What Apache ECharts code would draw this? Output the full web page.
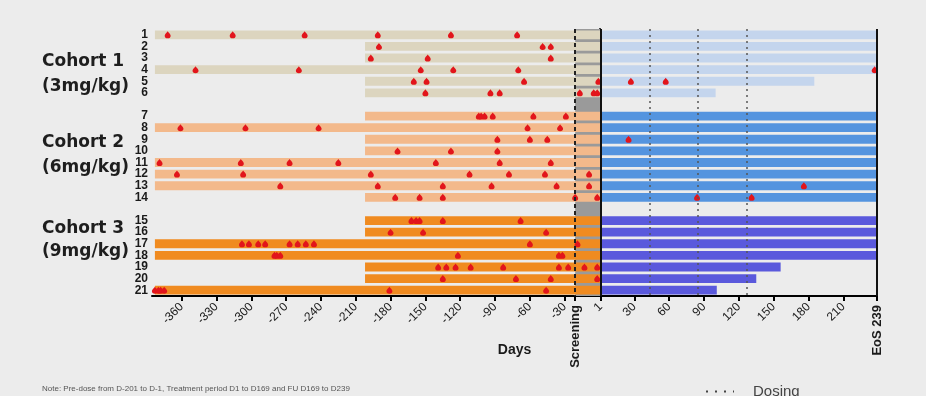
<!DOCTYPE html>
<html>
<head>
<meta charset="utf-8">
<title>Patient timelines by cohort</title>
<script src="https://cdn.jsdelivr.net/npm/echarts@6/dist/echarts.min.js"></script>
<style>
  html, body { margin: 0; padding: 0; background: #ececec; }
  #chart { width: 926px; height: 396px; }
</style>
</head>
<body>
<div id="chart"></div>
<script>
// Patients and their cohort (0: 3mg/kg, 1: 6mg/kg, 2: 9mg/kg)
const patients = ['1','2','3','4','5','6','7','8','9','10','11','12','13','14','15','16','17','18','19','20','21'];
const patientCohort = [0,0,0,0,0,0, 1,1,1,1,1,1,1,1, 2,2,2,2,2,2,2];
const cohortNames = ['Cohort 1', 'Cohort 2', 'Cohort 3'];
const cohortDoses = ['(3mg/kg)', '(6mg/kg)', '(9mg/kg)'];

// Pre-dose period: first available day per patient (ends at day 1)
const preDoseStart = [
  -383, -202, -202, -383, -202, -202,
  -202, -383, -202, -202, -383, -383, -383, -202,
  -202, -202, -383, -383, -202, -202, -383
];
// Treatment / follow-up period: last day per patient (starts at day 1)
const treatmentEnd = [
  239, 239, 239, 239, 185, 100,
  239, 239, 239, 239, 239, 239, 239, 239,
  239, 239, 239, 239, 156, 135, 101
];

// Event days per patient
const eventDays = [
  [-372, -316, -254, -191, -128, -71],
  [-190, -49, -42],
  [-197, -148, -42],
  [-348, -259, -154, -126, -70, 237],
  [-160, -149, -65, -1, 27, 57],
  [-150, -94, -86, -17, -5, -2],
  [-104, -102, -99, -92, -57, -29],
  [-361, -305, -242, -62, -34],
  [-88, -60, -45, 25],
  [-174, -128, -88],
  [-379, -309, -267, -225, -141, -86, -42],
  [-364, -307, -197, -112, -78, -47, -9],
  [-275, -191, -135, -93, -37, -9, 176],
  [-176, -155, -135, -21, -2, 84, 131],
  [-162, -158, -155, -135, -68],
  [-180, -152, -46],
  [-308, -302, -294, -288, -267, -260, -253, -246, -60, -19],
  [-280, -278, -275, -122, -35, -32],
  [-139, -132, -124, -111, -83, -35, -27, -13, -2],
  [-135, -72, -42, -2],
  [-383, -380, -378, -375, -181, -46]
];

// Study milestones
const screeningStart = -21;
const treatmentStart = 1;
const endOfStudy = 239;
const dosingDays = [43, 85, 127];

// Day axis ticks
const tickDays = [-360, -330, -300, -270, -240, -210, -180, -150, -120, -90, -60, -30, 1, 30, 60, 90, 120, 150, 180, 210];
const tickLabels = ['-360', '-330', '-300', '-270', '-240', '-210', '-180', '-150', '-120', '-90', '-60', '-30', '1', '30', '60', '90', '120', '150', '180', '210'];
const milestoneTicks = [screeningStart, endOfStudy];
const milestoneLabels = ['Screening', 'EoS 239'];

const preDoseColors = ['#dcd5bf', '#f3b98b', '#f08b20'];
const treatmentColors = ['#c4d5ed', '#5494df', '#5a59dc'];

// One category per patient, with an empty slot between cohorts
const categories = [];
const rowIndex = [];
patients.forEach((p, i) => {
  if (i > 0 && patientCohort[i] !== patientCohort[i - 1]) categories.push('');
  rowIndex.push(categories.length);
  categories.push(p);
});

const barData = [];
patients.forEach((p, i) => {
  barData.push({ value: [rowIndex[i], preDoseStart[i], treatmentStart], itemStyle: { color: preDoseColors[patientCohort[i]] } });
  barData.push({ value: [rowIndex[i], treatmentStart, treatmentEnd[i]], itemStyle: { color: treatmentColors[patientCohort[i]] } });
});

const eventData = [];
eventDays.forEach((days, i) => days.forEach(d => eventData.push([d, rowIndex[i]])));

const font = 'Liberation Sans, Arial, sans-serif';
const dropPath = 'path://M5,0 C6,2 10,6 10,8.6 A5,5 0 1 1 0,8.6 C0,6 4,2 5,0 Z';

const cohortLabelY = [[62, 87], [143, 168], [229, 252]];
const graphicTexts = [];
cohortNames.forEach((name, c) => {
  graphicTexts.push({ type: 'text', x: 42, y: cohortLabelY[c][0], style: { text: name, font: 'bold 17px DejaVu Sans, sans-serif', fill: '#1e1e1e', verticalAlign: 'middle' } });
  graphicTexts.push({ type: 'text', x: 42, y: cohortLabelY[c][1], style: { text: cohortDoses[c], font: 'bold 17px DejaVu Sans, sans-serif', fill: '#1e1e1e', verticalAlign: 'middle' } });
});
graphicTexts.push({ type: 'text', x: 42, y: 389, style: { text: 'Note: Pre-dose from D-201 to D-1, Treatment period D1 to D169 and FU D169 to D239', font: '8px ' + font, fill: '#555', verticalAlign: 'middle' } });

const chart = echarts.init(document.getElementById('chart'), null, { renderer: 'canvas' });
chart.setOption({
  backgroundColor: '#ececec',
  animation: false,
  textStyle: { fontFamily: font },
  grid: { left: 152, right: 49, top: 29, height: 267 },
  legend: {
    data: ['Dosing'],
    left: 700, top: 379,
    itemWidth: 28, itemHeight: 12,
    itemStyle: { opacity: 0 },
    lineStyle: { color: '#444', width: 2, type: [2, 7] },
    textStyle: { fontSize: 15, color: '#444', padding: [0, 0, 0, 14] }
  },
  graphic: graphicTexts,
  xAxis: [
    {
      type: 'value', min: -385.5, max: 239, position: 'bottom',
      splitLine: { show: false },
      axisLine: { show: true, lineStyle: { color: '#000', width: 2 } },
      axisTick: { show: true, customValues: tickDays.concat(milestoneTicks), length: 5, lineStyle: { color: '#000', width: 2 } },
      axisLabel: {
        customValues: tickDays,
        formatter: v => tickLabels[tickDays.indexOf(v)],
        rotate: 45, margin: 9, fontSize: 12, color: '#1a1a1a'
      },
      name: 'Days', nameLocation: 'middle', nameGap: 47,
      nameTextStyle: { fontSize: 14, fontWeight: 'bold', color: '#1a1a1a' }
    },
    {
      type: 'value', min: -385.5, max: 239, position: 'bottom', offset: 0,
      splitLine: { show: false },
      axisLine: { show: false },
      axisTick: { show: false },
      axisLabel: {
        customValues: milestoneTicks,
        formatter: v => milestoneLabels[milestoneTicks.indexOf(v)],
        rotate: 90, margin: 9, fontSize: 13, fontWeight: 'bold', color: '#1a1a1a'
      }
    }
  ],
  yAxis: {
    type: 'category', inverse: true, data: categories,
    axisLine: { show: true, lineStyle: { color: '#000', width: 2 } },
    axisTick: { show: false },
    splitLine: { show: false },
    axisLabel: { interval: 0, fontSize: 12, fontWeight: 'bold', color: '#1a1a1a', margin: 4, lineHeight: 11 }
  },
  series: [
    {
      name: 'Screening window', type: 'line', data: [], z: 1, silent: true,
      markArea: {
        silent: true,
        itemStyle: { color: '#9a9a9a' },
        data: [[{ xAxis: screeningStart }, { xAxis: treatmentStart }]]
      }
    },
    {
      name: 'Periods', type: 'custom', z: 2,
      encode: { x: [1, 2], y: 0 },
      renderItem: (params, api) => {
        const row = api.value(0);
        const a = api.coord([api.value(1), row]);
        const b = api.coord([api.value(2), row]);
        const h = api.size([0, 1])[1] * 0.76;
        return {
          type: 'rect',
          shape: { x: a[0], y: a[1] - h / 2, width: b[0] - a[0], height: h },
          style: { fill: api.visual('color') }
        };
      },
      data: barData
    },
    {
      name: 'Milestones', type: 'line', data: [], z: 3, silent: true,
      markLine: {
        silent: true, symbol: ['none', 'none'], label: { show: false },
        lineStyle: { color: '#111', width: 2, type: 'solid' },
        data: [
          { xAxis: screeningStart, lineStyle: { type: [4, 3], color: '#222' } },
          { xAxis: treatmentStart },
          { xAxis: endOfStudy }
        ]
      }
    },
    {
      name: 'Dosing', type: 'line', data: [], z: 3, symbol: 'none',
      itemStyle: { color: '#444' },
      lineStyle: { color: '#444', width: 2, type: [2, 7] },
      markLine: {
        silent: true, symbol: ['none', 'none'], label: { show: false },
        lineStyle: { color: '#555', width: 1.5, type: [2, 4] },
        data: dosingDays.map(d => ({ xAxis: d }))
      }
    },
    {
      name: 'Events', type: 'scatter', z: 4,
      symbol: dropPath, symbolSize: [6, 7], symbolKeepAspect: false,
      itemStyle: { color: '#e2151b', opacity: 1 },
      data: eventData
    }
  ]
});
</script>
</body>
</html>
